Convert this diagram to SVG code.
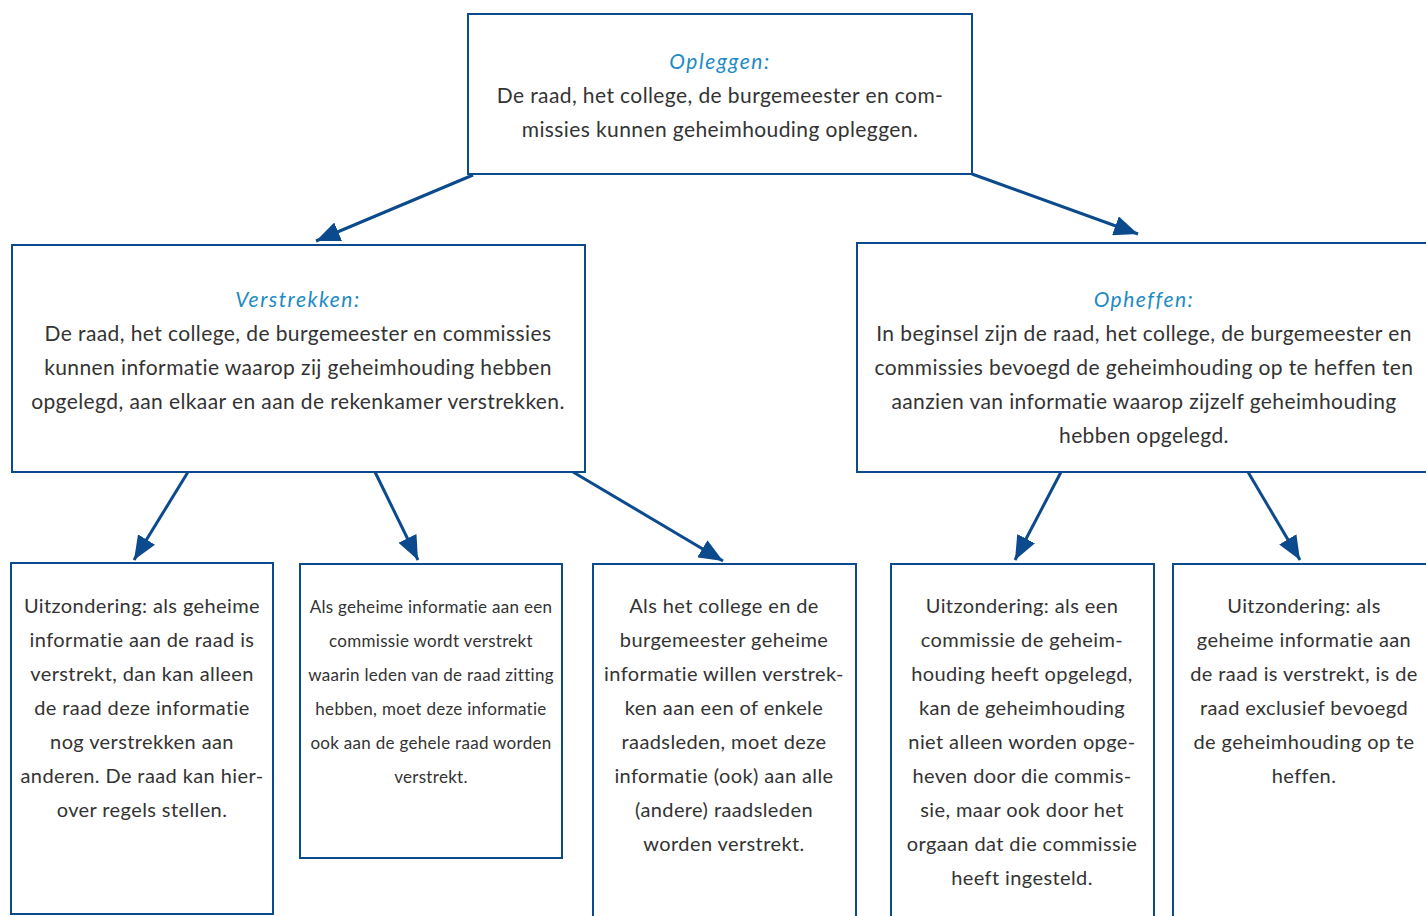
<svg xmlns="http://www.w3.org/2000/svg" width="1426" height="916" viewBox="0 0 1426 916">
<defs>
<style>
.box{fill:#fff;stroke:#0b4a8c;stroke-width:2}
.t{font-family:Lato,"Noto Sans",sans-serif;font-size:21px;letter-spacing:0.4px;fill:#333;text-anchor:middle}
.b{font-size:20px}
.s{font-size:17px;letter-spacing:0.3px}
.h{fill:#1e8bc3;font-style:italic;letter-spacing:1.5px}
.c{stroke:#0b4a8c;stroke-width:3;fill:none}
</style>
<marker id="ah" markerUnits="userSpaceOnUse" markerWidth="26" markerHeight="20" viewBox="0 0 26 20" refX="24" refY="10" orient="auto">
<path d="M0,0 L24,10 L0,20 Z" fill="#0b4a8c"/>
</marker>
</defs>
<rect width="1426" height="916" fill="#fff"/>
<g id="connectors">
<line class="c" x1="473" y1="175" x2="316" y2="241" marker-end="url(#ah)"/>
<line class="c" x1="972" y1="174" x2="1138" y2="234" marker-end="url(#ah)"/>
<line class="c" x1="188" y1="472" x2="134" y2="560" marker-end="url(#ah)"/>
<line class="c" x1="375" y1="472" x2="418" y2="560" marker-end="url(#ah)"/>
<line class="c" x1="573" y1="472" x2="723" y2="561" marker-end="url(#ah)"/>
<line class="c" x1="1061" y1="472" x2="1015" y2="560" marker-end="url(#ah)"/>
<line class="c" x1="1248" y1="472" x2="1300" y2="560" marker-end="url(#ah)"/>
</g>
<g id="opleggen">
<rect class="box" x="468" y="14" width="504" height="160"/>
<text class="t h" x="720" y="69">Opleggen:</text>
<text class="t" x="720" y="103">De raad, het college, de burgemeester en com-</text>
<text class="t" x="720" y="137">missies kunnen geheimhouding opleggen.</text>
</g>
<g id="verstrekken">
<rect class="box" x="12" y="245" width="573" height="227"/>
<text class="t h" x="298" y="307">Verstrekken:</text>
<text class="t" x="298" y="341">De raad, het college, de burgemeester en commissies</text>
<text class="t" x="298" y="375">kunnen informatie waarop zij geheimhouding hebben</text>
<text class="t" x="298" y="409">opgelegd, aan elkaar en aan de rekenkamer verstrekken.</text>
</g>
<g id="opheffen">
<rect class="box" x="857" y="243" width="590" height="229"/>
<text class="t h" x="1144" y="307">Opheffen:</text>
<text class="t" x="1144" y="341">In beginsel zijn de raad, het college, de burgemeester en</text>
<text class="t" x="1144" y="375">commissies bevoegd de geheimhouding op te heffen ten</text>
<text class="t" x="1144" y="409">aanzien van informatie waarop zijzelf geheimhouding</text>
<text class="t" x="1144" y="443">hebben opgelegd.</text>
</g>
<g id="uitz1">
<rect class="box" x="11" y="563" width="262" height="351"/>
<text class="t b" x="142" y="613">Uitzondering: als geheime</text>
<text class="t b" x="142" y="647">informatie aan de raad is</text>
<text class="t b" x="142" y="681">verstrekt, dan kan alleen</text>
<text class="t b" x="142" y="715">de raad deze informatie</text>
<text class="t b" x="142" y="749">nog verstrekken aan</text>
<text class="t b" x="142" y="783">anderen. De raad kan hier-</text>
<text class="t b" x="142" y="817">over regels stellen.</text>
</g>
<g id="commissie">
<rect class="box" x="300" y="564" width="262" height="294"/>
<text class="t s" x="431" y="613">Als geheime informatie aan een</text>
<text class="t s" x="431" y="647">commissie wordt verstrekt</text>
<text class="t s" x="431" y="681">waarin leden van de raad zitting</text>
<text class="t s" x="431" y="715">hebben, moet deze informatie</text>
<text class="t s" x="431" y="749">ook aan de gehele raad worden</text>
<text class="t s" x="431" y="783">verstrekt.</text>
</g>
<g id="college">
<rect class="box" x="593" y="564" width="263" height="370"/>
<text class="t b" x="724" y="613">Als het college en de</text>
<text class="t b" x="724" y="647">burgemeester geheime</text>
<text class="t b" x="724" y="681">informatie willen verstrek-</text>
<text class="t b" x="724" y="715">ken aan een of enkele</text>
<text class="t b" x="724" y="749">raadsleden, moet deze</text>
<text class="t b" x="724" y="783">informatie (ook) aan alle</text>
<text class="t b" x="724" y="817">(andere) raadsleden</text>
<text class="t b" x="724" y="851">worden verstrekt.</text>
</g>
<g id="uitz2">
<rect class="box" x="891" y="564" width="263" height="370"/>
<text class="t b" x="1022" y="613">Uitzondering: als een</text>
<text class="t b" x="1022" y="647">commissie de geheim-</text>
<text class="t b" x="1022" y="681">houding heeft opgelegd,</text>
<text class="t b" x="1022" y="715">kan de geheimhouding</text>
<text class="t b" x="1022" y="749">niet alleen worden opge-</text>
<text class="t b" x="1022" y="783">heven door die commis-</text>
<text class="t b" x="1022" y="817">sie, maar ook door het</text>
<text class="t b" x="1022" y="851">orgaan dat die commissie</text>
<text class="t b" x="1022" y="885">heeft ingesteld.</text>
</g>
<g id="uitz3">
<rect class="box" x="1173" y="564" width="270" height="370"/>
<text class="t b" x="1304" y="613">Uitzondering: als</text>
<text class="t b" x="1304" y="647">geheime informatie aan</text>
<text class="t b" x="1304" y="681">de raad is verstrekt, is de</text>
<text class="t b" x="1304" y="715">raad exclusief bevoegd</text>
<text class="t b" x="1304" y="749">de geheimhouding op te</text>
<text class="t b" x="1304" y="783">heffen.</text>
</g>
</svg>
